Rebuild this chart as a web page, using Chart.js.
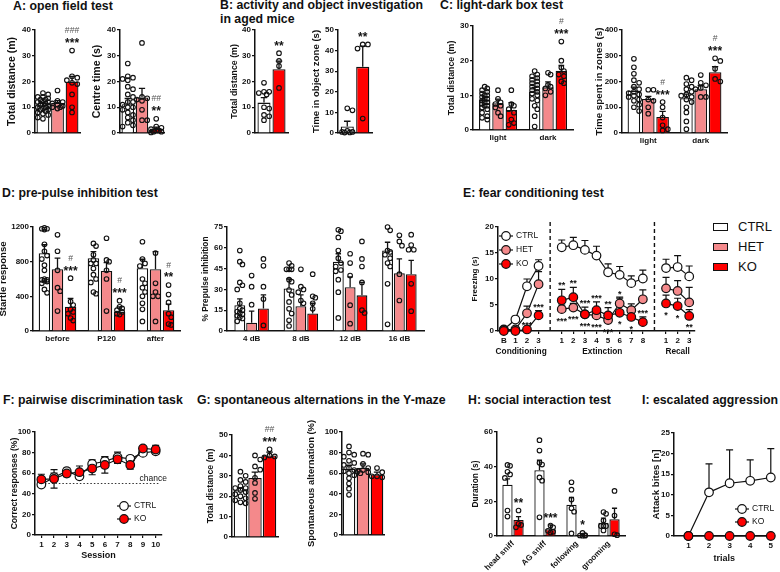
<!DOCTYPE html>
<html>
<head>
<meta charset="utf-8">
<script src="https://cdn.jsdelivr.net/npm/chart.js@4"></script>
<style>
  html, body { margin: 0; padding: 0; background: #fff; }
  #fig { position: relative; width: 780px; height: 572px; overflow: hidden;
         font-family: "Liberation Sans", Arial, sans-serif; color: #111; }
  #fig canvas { position: absolute; }
  .ttl { position: absolute; font-weight: bold; font-size: 12.3px; line-height: 14px; white-space: nowrap; }
  .sw { position: absolute; width: 15px; height: 8px; box-sizing: border-box; border: 1.6px solid #111; }
  .lg { position: absolute; font-size: 13px; line-height: 14px; white-space: nowrap; }
</style>
</head>
<body>
<div id="fig">
  <div class="ttl" style="left:13px;top:-1px">A: open field test</div>
  <div class="ttl" style="left:220px;top:-2px">B: activity and object investigation<br>in aged mice</div>
  <div class="ttl" style="left:440px;top:-2px">C: light-dark box test</div>
  <div class="ttl" style="left:2px;top:186px">D: pre-pulse inhibition test</div>
  <div class="ttl" style="left:463px;top:186px">E: fear conditioning test</div>
  <div class="ttl" style="left:3px;top:393px">F: pairwise discrimination task</div>
  <div class="ttl" style="left:197px;top:393px">G: spontaneous alternations in the Y-maze</div>
  <div class="ttl" style="left:468px;top:393px">H: social interaction test</div>
  <div class="ttl" style="left:642px;top:393px">I: escalated aggression</div>

  <div class="sw" style="left:713px;top:223px;background:#ffffff"></div>
  <div class="lg" style="left:738px;top:220px">CTRL</div>
  <div class="sw" style="left:713px;top:243px;background:#f4898b"></div>
  <div class="lg" style="left:738px;top:240px">HET</div>
  <div class="sw" style="left:713px;top:263px;background:#ff0000"></div>
  <div class="lg" style="left:738px;top:260px">KO</div>
</div>
<script>
// ---- data ----
const GENO = ['CTRL', 'HET', 'KO'];

// A: open field
const A_DIST_MEAN = [[10.8], [11.7], [19.9]];
const A_DIST_SEM = [[0.7], [0.9], [2.1]];
const A_DIST_PTS = [
  [[15.5, 15, 14, 14, 13.5, 13, 12.5, 12, 12, 11.5, 11, 11, 10.5, 10, 10, 9.5, 9, 9, 8.5, 8, 7.5, 7, 6, 5.5, 13]],
  [[16.5, 12.5, 12, 11.5, 11, 10.5, 10, 10, 9.5]],
  [[32, 22, 21.5, 20.5, 19.5, 19, 15, 10, 8]]
];
const A_DIST_SIG = [[''], [''], ['###\n***']];

const A_CENTRE_MEAN = [[11.2], [13.8], [1.7]];
const A_CENTRE_SEM = [[2.2], [3.5], [0.6]];
const A_CENTRE_PTS = [
  [[27, 22, 21.5, 21, 20.5, 18, 17, 15, 14, 12, 11, 10, 9, 8, 7, 6, 5, 4, 3, 2.5, 12, 10]],
  [[35, 14, 13, 12.5, 13.5, 5, 5, 9]],
  [[5.5, 2.5, 2, 1.5, 1, 0.5, 0.5, 1, 0.2]]
];
const A_CENTRE_SIG = [[''], [''], ['##\n**']];

// B: aged mice (CTRL, KO)
const B_DIST_MEAN = [[11.8], [24.8]];
const B_DIST_SEM = [[1.9], [3.1]];
const B_DIST_PTS = [[[19.5, 16, 16, 15.5, 15, 10, 9.5, 7, 6.5, 5]], [[31, 28, 26, 17.5]]];
const B_DIST_SIG = [[''], ['**']];

const B_ZONE_MEAN = [[3.2], [32.1]];
const B_ZONE_SEM = [[2.5], [10.1]];
const B_ZONE_PTS = [[[12, 11, 0.5, 0.5, 0.3, 0.2, 1]], [[43, 43, 41, 7]]];
const B_ZONE_SIG = [[''], ['**']];

// C: light-dark box
const C_ZONES = ['light', 'dark'];
const C_DIST_MEAN = [[8.7, 11.1], [7.7, 12.3], [5.8, 17.1]];
const C_DIST_SEM = [[0.9, 1.2], [1.2, 1.6], [2.1, 1.5]];
const C_DIST_PTS = [
  [[12.5, 12, 11.5, 11, 10.5, 10, 10, 9.5, 9, 9, 8.5, 8, 8, 7.5, 7, 7, 6.5, 6, 5, 4, 3.5, 3],
   [17, 16, 15.5, 15, 14.5, 14, 13.5, 13, 12.5, 12, 11.5, 11, 10.5, 10, 9, 8.5, 7, 6, 4, 1]],
  [[11.5, 9, 8, 7.5, 7, 6.5, 5, 4], [16.5, 16, 13, 12.5, 12, 11, 10]],
  [[11.5, 7.5, 7, 6, 5, 3, 2, 1.5], [25.5, 20, 18, 17, 16, 15.5, 14, 13.5]]
];
const C_DIST_SIG = [['', ''], ['', ''], ['', '#\n***']];

const C_TIME_MEAN = [[164, 135], [132, 170], [62, 236]];
const C_TIME_SEM = [[14, 16], [10, 15], [22, 22]];
const C_TIME_PTS = [
  [[288, 255, 230, 205, 195, 180, 170, 160, 155, 150, 145, 140, 130, 125, 110, 100, 85],
   [215, 205, 190, 180, 170, 160, 150, 145, 140, 130, 120, 100, 80, 45, 15]],
  [[168, 168, 130, 125, 100, 75], [225, 195, 185, 175, 170, 140, 140]],
  [[120, 100, 60, 30, 15, 10], [290, 280, 250, 210, 200]]
];
const C_TIME_SIG = [['', ''], ['', ''], ['#\n***', '#\n***']];

// D: pre-pulse inhibition
const D_STARTLE_CATS = ['before', 'P120', 'after'];
const D_STARTLE_MEAN = [[898, 840, 724], [712, 693, 712], [279, 220, 240]];
const D_STARTLE_SEM = [[97, 77, 104], [128, 97, 205], [96, 59, 70]];
const D_STARTLE_PTS = [
  [[1180, 1170, 1190, 1180, 1000, 920, 870, 830, 760, 700, 600, 590, 580, 570, 550, 480, 440, 590],
   [980, 1010, 880, 820, 780, 720, 650, 600, 560, 450, 430, 780],
   [1030, 830, 780, 750, 600, 550, 500, 450, 400, 320, 250, 110]],
  [[1110, 920, 700, 500, 460, 230], [1070, 820, 800, 700, 600, 230], [900, 550, 450, 400, 400, 110]],
  [[610, 340, 300, 250, 220, 200, 150, 120], [350, 280, 260, 240, 220, 200, 190], [530, 420, 330, 200, 160, 80, 70]]
];
const D_STARTLE_SIG = [['', '', ''], ['', '', ''], ['#\n***', '#\n***', '#\n**']];

const D_PPI_CATS = ['4 dB', '8 dB', '12 dB', '16 dB'];
const D_PPI_MEAN = [[18.6, 30.7, 50, 58], [6, 17.9, 31.5, 41.6], [16.2, 12.6, 25.7, 41]];
const D_PPI_SEM = [[4.5, 6.8, 5.7, 6], [8.3, 8.1, 7.5, 10.4], [9.8, 7.4, 9.3, 10]];
const D_PPI_PTS = [
  [[58, 50, 48, 35, 33, 30, 20, 16, 15, 14, 13, 12, 11, 10, 9, 7],
   [49, 47, 44.5, 44.5, 44.5, 37, 35.6, 29.5, 26, 21, 16, 12.6, 7.7, 3.6],
   [73, 72, 67.5, 58, 52.5, 49, 46.5, 44, 43, 37, 28, 9.4],
   [75, 72.6, 58, 57, 55, 52.5, 49, 46.5, 34, 4.8]],
  [[40, 32, 19], [44.5, 32, 30, 28, 22, 20], [55.7, 49, 40, 18.6, 5.3], [69, 64.6, 61.5, 41, 22]],
  [[52, 47, 32, 23, 4], [41, 25, 24, 20, 16], [64.6, 52, 46.5, 35, 15, 13], [69.5, 62, 58.6, 58.6, 34, 14.3]]
];

// E: fear conditioning ('' = gap between phases)
const E_LABELS = ['B', '1', '2', '3', '', '1', '2', '3', '4', '5', '6', '7', '8', '', '1', '2', '3'];
const E_PHASES = ['Conditioning', 'Extinction', 'Recall'];
const E_CTRL = [0.3, 2.2, 8.6, 12.5, null, 16.1, 16.5, 15.6, 14.5, 11.3, 10.8, 9.2, 10.1, null, 12.1, 12.3, 10.5];
const E_CTRL_SEM = [0.2, 0.6, 1.4, 1.2, null, 1.4, 1.5, 1.8, 1.8, 1.6, 1.6, 1.4, 1.6, null, 1.7, 2.2, 2.0];
const E_HET = [0.2, 0.3, 3.4, 9, null, 4.2, 4.5, 3.2, 3, 2.1, 5.3, 4, 6.1, null, 8.2, 7.7, 5.5];
const E_HET_SEM = [0.1, 0.3, 1.4, 2.4, null, 0.8, 0.8, 0.6, 0.8, 0.7, 1.2, 1.2, 1.8, null, 2.1, 2.0, 2.9];
const E_KO = [0, 0, 0.3, 3, null, 5.9, 6.5, 3.2, 4, 3, 3.5, 2.7, 1.7, null, 5.3, 4.8, 2.9];
const E_KO_SEM = [0, 0, 0.2, 0.9, null, 2.1, 1.9, 1.4, 1.6, 1.5, 2.8, 1.8, 1.0, null, 1.6, 1.5, 1.2];
const E_SIG_KO_UP = ['', '', '', '***', '', '**', '**', '***', '***', '**', '*', '', '***', '', '', '', ''];
const E_SIG_HET_DOWN = ['', '', '***', '', '', '***', '***', '***', '***', '***', '', '', '', '', '', '', ''];
const E_SIG_KO_DOWN = ['', '', '', '', '', '', '', '', '', '', '*', '*', '', '', '*', '*', '**'];

// F: pairwise discrimination
const F_SESSIONS = ['1', '2', '3', '4', '5', '6', '7', '8', '9', '10'];
const F_CTRL = [49, 56, 62, 57, 69, 71.6, 75.5, 74, 79.7, 81.3];
const F_CTRL_SEM = [2, 4, 3, 3, 4, 4, 5, 3, 2, 3];
const F_KO = [54, 54.5, 59.7, 61, 64.5, 68, 73.5, 68, 84, 83];
const F_KO_SEM = [5, 9, 3, 6, 6, 8, 4, 4, 2, 4];
const F_CHANCE = 50;

// G: Y-maze
const G_DIST_MEAN = [[22.9], [28.9], [40]];
const G_DIST_SEM = [[1.2], [2.9], [1.6]];
const G_DIST_PTS = [
  [[32, 30, 28, 27, 25, 24, 24, 23, 22, 21, 20, 19, 18, 17, 16.5]],
  [[40, 38, 34.6, 33, 29, 26.5, 21.6, 18.7]],
  [[43, 40, 39.5, 39]]
];
const G_DIST_SIG = [[''], [''], ['##\n***']];
const G_ALT_MEAN = [[64.2], [65.2], [58.7]];
const G_ALT_SEM = [[3.5], [3.8], [2.3]];
const G_ALT_PTS = [
  [[86, 80, 78, 76, 72, 70, 68, 65, 63, 62, 60, 58, 55, 50, 45, 39]],
  [[79, 78, 69, 65, 63, 62, 61, 60]],
  [[65, 61, 57, 57, 56]]
];

// H: social interaction (CTRL, KO)
const H_BEHAV = ['head sniff', 'AG sniff', 'following', 'grooming'];
const H_MEAN = [[29.6, 37.9, 18, 7.7], [9.3, 3.9, 0.6, 9.7]];
const H_SEM = [[3.3, 5.8, 4.2, 2.6], [1.9, 2.5, 0.6, 6.3]];
const H_PTS = [
  [[41, 40.5, 37, 35.5, 33.5, 14.7, 11.2], [55.3, 49.3, 42.2, 41.2, 33.8, 31.9, 10.8],
   [31, 26.7, 21, 16, 14, 1.5], [13.8, 12.8, 8.9, 5.7, 5.7, 5.7, 3.2]],
  [[14.7, 7, 6.4, 5], [6, 5, 3, 2.5, 2], [1.8, 0.5, 0.3, 0.2, 0.2], [26, 11.8, 1, 0.5]]
];
const H_SIG = [['', '', '', ''], ['**', '***', '*', '']];

// I: escalated aggression
const I_TRIALS = [1, 2, 3, 4, 5];
const I_CTRL = [0, 10.6, 12.8, 13.4, 14.2];
const I_CTRL_SEM = [0, 6.9, 8.1, 5.1, 7];
const I_KO = [0, 0, 0, 0, 0];
const I_KO_SEM = [0, 0, 0, 0, 0];

// ---- drawing ----
const INK = '#111';
const FAM = '"Liberation Sans", Arial, sans-serif';
const FILL3 = ['#ffffff', '#f4898b', '#ff0000'];
const FILL2 = ['#ffffff', '#ff0000'];
const fig = document.getElementById('fig');
Chart.defaults.font.family = FAM;
Chart.defaults.color = INK;

function makeCanvas(rect, yW, xH, padTop, padRight) {
  const [L, T, R, B] = rect;
  const left = L - yW, top = T - padTop;
  const cv = document.createElement('canvas');
  cv.width = Math.round(R - left + padRight);
  cv.height = Math.round(B + xH - top);
  cv.style.left = left + 'px';
  cv.style.top = top + 'px';
  fig.appendChild(cv);
  return cv;
}

function yAxis(min, max, step, title, size, yW) {
  return {
    type: 'linear', min, max,
    ticks: { stepSize: step, font: { size: 8, weight: 'bold' }, padding: 1, color: INK, callback: v => String(v) },
    grid: { display: true, drawOnChartArea: false, drawTicks: true, tickLength: 3, color: INK, lineWidth: 1.2 },
    border: { display: true, color: INK, width: 1.5 },
    title: { display: true, text: title, color: INK, font: { size, weight: 'bold' }, padding: 0 },
    afterFit: sc => { sc.width = yW; }
  };
}

function xBar(xH, show, rot) {
  return {
    type: 'category', offset: true,
    ticks: { display: show, font: { size: 8, weight: 'bold' }, padding: 3, color: INK,
             autoSkip: false, maxRotation: rot || 0, minRotation: rot || 0 },
    grid: { display: false, drawTicks: false },
    border: { display: true, color: INK, width: 1.5 },
    afterFit: sc => { sc.height = xH; }
  };
}

function baseOptions(padTop, padRight, scales) {
  return {
    responsive: false, animation: false, devicePixelRatio: 1,
    layout: { padding: { top: padTop, right: padRight, left: 0, bottom: 0 } },
    plugins: { legend: { display: false }, tooltip: { enabled: false } },
    scales
  };
}

// simple beeswarm: spread dots sideways so they do not overlap
function swarm(ys, half, r) {
  const d = 2 * r + 0.4;
  const order = ys.map((_, i) => i).sort((a, b) => ys[a] - ys[b]);
  const placed = [];
  order.forEach(i => {
    const y = ys[i];
    let best = 0, bestScore = -1;
    for (let k = 0; k < 15; k++) {
      const off = (k % 2 ? 1 : -1) * Math.ceil(k / 2) * (r + 0.3);
      if (Math.abs(off) > half) continue;
      let minD = Infinity;
      placed.forEach(p => { minD = Math.min(minD, Math.hypot(p.x - off, p.y - y)); });
      if (minD >= d) { best = off; break; }
      if (minD > bestScore) { bestScore = minD; best = off; }
    }
    placed.push({ x: best, y });
  });
  return placed;
}

function drawSig(ctx, txt, x, cy, size) {
  const lines = txt.split('\n');
  ctx.textAlign = 'center';
  ctx.textBaseline = 'alphabetic';
  for (let i = lines.length - 1; i >= 0; i--) {
    const t = lines[i];
    if (t[0] === '#') {
      const hs = size * 0.72;
      ctx.font = `${hs}px ${FAM}`;
      ctx.fillStyle = '#555';
      ctx.fillText(t, x, cy + 0.36 * hs);
    } else {
      ctx.font = `bold ${size}px ${FAM}`;
      ctx.fillStyle = INK;
      ctx.fillText(t, x, cy + 0.56 * size);
    }
    cy -= size * 0.85;
  }
}

function barMarks(s) {
  return {
    id: 'barMarks',
    afterDatasetsDraw(chart) {
      const ctx = chart.ctx, ys = chart.scales.y;
      const r = 2.3;
      ctx.save();
      s.means.forEach((row, g) => {
        const meta = chart.getDatasetMeta(g);
        row.forEach((m, c) => {
          const bar = meta.data[c];
          const x = bar.x, w = bar.width;
          const yMean = ys.getPixelForValue(m);
          const yErr = ys.getPixelForValue(m + s.sems[g][c]);
          ctx.strokeStyle = INK;
          ctx.lineWidth = 1.3;
          ctx.beginPath();
          ctx.moveTo(x, yMean); ctx.lineTo(x, yErr);
          ctx.moveTo(x - w * 0.25, yErr); ctx.lineTo(x + w * 0.25, yErr);
          ctx.stroke();
          const pys = s.pts[g][c].map(v => ys.getPixelForValue(v));
          ctx.lineWidth = 1.1;
          swarm(pys, w / 2 - 1, r).forEach(p => {
            ctx.beginPath();
            ctx.arc(x + p.x, p.y, r, 0, Math.PI * 2);
            ctx.stroke();
          });
          const txt = s.sig && s.sig[g][c];
          if (txt) {
            const top = Math.min(yErr, ...pys.map(p => p - r));
            drawSig(ctx, txt, x, top - 8, s.sigSize || 12);
          }
        });
      });
      ctx.restore();
    }
  };
}

function barChart(s) {
  const padTop = 18, padRight = 10;
  const cv = makeCanvas(s.rect, s.yW, s.xH, padTop, padRight);
  const datasets = s.means.map((m, g) => ({
    data: m.slice(), backgroundColor: s.fills[g], borderColor: INK, borderWidth: 1.3,
    categoryPercentage: s.cp, barPercentage: s.bp
  }));
  new Chart(cv, {
    type: 'bar',
    data: { labels: s.labels, datasets },
    options: baseOptions(padTop, padRight, {
      x: xBar(s.xH, s.showX, s.rot),
      y: yAxis(s.yMin, s.yMax, s.step, s.title, s.titleSize, s.yW)
    }),
    plugins: [barMarks(s)]
  });
}

function drawLegend(ctx, items, x, y, gap) {
  items.forEach((it, i) => {
    const cy = y + i * gap;
    ctx.strokeStyle = INK;
    ctx.lineWidth = 1.2;
    ctx.beginPath(); ctx.moveTo(x - 7, cy); ctx.lineTo(x + 7, cy); ctx.stroke();
    ctx.beginPath(); ctx.arc(x, cy, 4.3, 0, Math.PI * 2);
    ctx.fillStyle = it.fill; ctx.fill(); ctx.stroke();
    ctx.fillStyle = INK;
    ctx.font = `8.5px ${FAM}`;
    ctx.textAlign = 'left';
    ctx.textBaseline = 'middle';
    ctx.fillText(it.label, x + 10, cy);
  });
}

function errBars(both, cap) {
  return {
    id: 'errBars',
    beforeDatasetsDraw(chart) {
      const ctx = chart.ctx, ys = chart.scales.y;
      ctx.save();
      ctx.strokeStyle = INK;
      ctx.lineWidth = 1.2;
      chart.data.datasets.forEach((ds, i) => {
        const meta = chart.getDatasetMeta(i);
        ds.sem.forEach((e, k) => {
          const v = ds.vals[k];
          if (v == null || !e) return;
          const pt = meta.data[k];
          const x = pt.x;
          const y1 = ys.getPixelForValue(v + e);
          const y0 = both ? ys.getPixelForValue(v - e) : pt.y;
          ctx.beginPath();
          ctx.moveTo(x, y0); ctx.lineTo(x, y1);
          ctx.moveTo(x - cap, y1); ctx.lineTo(x + cap, y1);
          if (both) { ctx.moveTo(x - cap, y0); ctx.lineTo(x + cap, y0); }
          ctx.stroke();
        });
      });
      ctx.restore();
    }
  };
}

function lineSet(label, vals, sem, fill, order, xs) {
  return {
    label, vals, sem, order,
    data: xs ? vals.map((v, i) => ({ x: xs[i], y: v })) : vals.slice(),
    borderColor: INK, borderWidth: 1.2, spanGaps: false, clip: false,
    pointRadius: 4.3, pointBackgroundColor: fill, pointBorderColor: INK, pointBorderWidth: 1.2
  };
}

// ---- A ----
barChart({ rect: [35, 30, 80, 133], yW: 29, xH: 6, labels: [''], showX: false,
  means: A_DIST_MEAN, sems: A_DIST_SEM, pts: A_DIST_PTS, sig: A_DIST_SIG, fills: FILL3,
  yMin: 0, yMax: 40, step: 10, title: 'Total distance (m)', titleSize: 10.5, cp: 0.97, bp: 0.88 });
barChart({ rect: [120, 30, 164, 133], yW: 29, xH: 6, labels: [''], showX: false,
  means: A_CENTRE_MEAN, sems: A_CENTRE_SEM, pts: A_CENTRE_PTS, sig: A_CENTRE_SIG, fills: FILL3,
  yMin: 0, yMax: 40, step: 10, title: 'Centre time (s)', titleSize: 10.5, cp: 0.97, bp: 0.88 });

// ---- B ----
barChart({ rect: [255, 30, 288, 133], yW: 26, xH: 6, labels: [''], showX: false,
  means: B_DIST_MEAN, sems: B_DIST_SEM, pts: B_DIST_PTS, sig: B_DIST_SIG, fills: FILL2,
  yMin: 0, yMax: 40, step: 10, title: 'Total distance (m)', titleSize: 8.8, cp: 0.91, bp: 0.87 });
barChart({ rect: [338, 30, 372, 133], yW: 27, xH: 6, labels: [''], showX: false,
  means: B_ZONE_MEAN, sems: B_ZONE_SEM, pts: B_ZONE_PTS, sig: B_ZONE_SIG, fills: FILL2,
  yMin: 0, yMax: 50, step: 10, title: 'Time in object zone (s)', titleSize: 9.6, cp: 0.91, bp: 0.85 });

// ---- C ----
barChart({ rect: [473, 26, 573, 130], yW: 27, xH: 16, labels: C_ZONES, showX: true,
  means: C_DIST_MEAN, sems: C_DIST_SEM, pts: C_DIST_PTS, sig: C_DIST_SIG, fills: FILL3,
  yMin: 0, yMax: 30, step: 10, title: 'Total distance (m)', titleSize: 8.8, cp: 0.8, bp: 0.86 });
barChart({ rect: [622, 30, 727, 133], yW: 29, xH: 16, labels: C_ZONES, showX: true,
  means: C_TIME_MEAN, sems: C_TIME_SEM, pts: C_TIME_PTS, sig: C_TIME_SIG, fills: FILL3,
  yMin: 0, yMax: 400, step: 100, title: 'Time spent in zones (s)', titleSize: 9.8, cp: 0.82, bp: 0.88 });

// ---- D ----
barChart({ rect: [33, 227, 180, 331], yW: 35, xH: 16, labels: D_STARTLE_CATS, showX: true,
  means: D_STARTLE_MEAN, sems: D_STARTLE_SEM, pts: D_STARTLE_PTS, sig: D_STARTLE_SIG, fills: FILL3,
  yMin: 0, yMax: 1200, step: 400, title: 'Startle response', titleSize: 9.6, cp: 0.8, bp: 0.88 });
barChart({ rect: [227, 227, 424, 331], yW: 26, xH: 16, labels: D_PPI_CATS, showX: true,
  means: D_PPI_MEAN, sems: D_PPI_SEM, pts: D_PPI_PTS, sig: null, fills: FILL3,
  yMin: 0, yMax: 75, step: 15, title: '% Prepulse inhibition', titleSize: 8.4, cp: 0.72, bp: 0.92 });

// ---- E ----
(function () {
  const rect = [498, 227, 695, 331], yW = 28, xH = 28, padTop = 10, padRight = 6;
  const cv = makeCanvas(rect, yW, xH, padTop, padRight);
  const gaps = E_LABELS.map((l, i) => l === '' ? i : -1).filter(i => i >= 0);
  const bounds = [-1, ...gaps, E_LABELS.length];
  const sigPlugin = {
    id: 'eExtras',
    afterDatasetsDraw(chart) {
      const ctx = chart.ctx, xs = chart.scales.x, ys = chart.scales.y, ca = chart.chartArea;
      ctx.save();
      // phase separators
      ctx.strokeStyle = INK; ctx.lineWidth = 1.4; ctx.setLineDash([4, 3]);
      gaps.forEach(i => {
        const x = xs.getPixelForValue(i);
        ctx.beginPath(); ctx.moveTo(x, ca.top - 5); ctx.lineTo(x, ca.bottom + 2); ctx.stroke();
      });
      ctx.setLineDash([]);
      // significance marks
      E_LABELS.forEach((l, i) => {
        const x = xs.getPixelForValue(i);
        if (E_SIG_KO_UP[i]) drawSig(ctx, E_SIG_KO_UP[i], x, ys.getPixelForValue(E_KO[i] + E_KO_SEM[i]) - 6, 9);
        if (E_SIG_HET_DOWN[i]) drawSig(ctx, E_SIG_HET_DOWN[i], x, ys.getPixelForValue(E_HET[i]) + 9.5, 9);
        if (E_SIG_KO_DOWN[i]) drawSig(ctx, E_SIG_KO_DOWN[i], x, ys.getPixelForValue(E_KO[i]) + 9.5, 9);
      });
      // phase names
      ctx.font = `bold 8.3px ${FAM}`; ctx.fillStyle = INK;
      ctx.textAlign = 'center'; ctx.textBaseline = 'middle';
      E_PHASES.forEach((p, k) => {
        const mid = (bounds[k] + 1 + bounds[k + 1] - 1) / 2;
        ctx.fillText(p, xs.getPixelForValue(mid), ca.bottom + 21);
      });
      drawLegend(ctx, GENO.map((g, i) => ({ label: g, fill: FILL3[i] })), ca.left + 8, ca.top + 9, 14);
      ctx.restore();
    }
  };
  new Chart(cv, {
    type: 'line',
    data: {
      labels: E_LABELS,
      datasets: [
        lineSet('CTRL', E_CTRL, E_CTRL_SEM, FILL3[0], 2),
        lineSet('HET', E_HET, E_HET_SEM, FILL3[1], 1),
        lineSet('KO', E_KO, E_KO_SEM, FILL3[2], 0)
      ]
    },
    options: baseOptions(padTop, padRight, {
      x: {
        type: 'category', offset: true,
        ticks: { font: { size: 8, weight: 'bold' }, padding: 2, color: INK, autoSkip: false, maxRotation: 0 },
        grid: { display: true, drawOnChartArea: false, drawTicks: true, tickLength: 3, lineWidth: 1.2,
                color: c => (E_LABELS[c.index] ? INK : 'rgba(0,0,0,0)') },
        border: { display: true, color: INK, width: 1.5 },
        afterFit: sc => { sc.height = xH; }
      },
      y: yAxis(0, 20, 5, 'Freezing (s)', 8, yW)
    }),
    plugins: [errBars(false, 3.5), sigPlugin]
  });
})();

// ---- F ----
(function () {
  const rect = [35, 432, 162, 535], yW = 26, xH = 26, padTop = 8, padRight = 10;
  const cv = makeCanvas(rect, yW, xH, padTop, padRight);
  const extras = {
    id: 'fExtras',
    beforeDatasetsDraw(chart) {
      const ctx = chart.ctx, xs = chart.scales.x, ys = chart.scales.y, ca = chart.chartArea;
      const y = ys.getPixelForValue(F_CHANCE);
      ctx.save();
      ctx.strokeStyle = '#333'; ctx.lineWidth = 1.2; ctx.setLineDash([1.5, 2]);
      ctx.beginPath(); ctx.moveTo(xs.getPixelForValue(0), y); ctx.lineTo(ca.right - 2, y); ctx.stroke();
      ctx.setLineDash([]);
      ctx.fillStyle = INK; ctx.font = `8.5px ${FAM}`;
      ctx.textAlign = 'right'; ctx.textBaseline = 'bottom';
      ctx.fillText('chance', ca.right + 5, y - 0.5);
      ctx.restore();
    },
    afterDatasetsDraw(chart) {
      const ca = chart.chartArea;
      drawLegend(chart.ctx, [{ label: 'CTRL', fill: FILL3[0] }, { label: 'KO', fill: FILL3[2] }],
        ca.left + 89, ca.top + 74, 13);
    }
  };
  new Chart(cv, {
    type: 'line',
    data: {
      labels: F_SESSIONS,
      datasets: [
        lineSet('CTRL', F_CTRL, F_CTRL_SEM, FILL3[0], 1),
        lineSet('KO', F_KO, F_KO_SEM, FILL3[2], 0)
      ]
    },
    options: baseOptions(padTop, padRight, {
      x: {
        type: 'category', offset: true,
        ticks: { font: { size: 8, weight: 'bold' }, padding: 2, color: INK, autoSkip: false, maxRotation: 0 },
        grid: { display: true, drawOnChartArea: false, drawTicks: true, tickLength: 3, lineWidth: 1.2, color: INK },
        border: { display: true, color: INK, width: 1.5 },
        title: { display: true, text: 'Session', color: INK, font: { size: 9, weight: 'bold' }, padding: { top: 1, bottom: 0 } },
        afterFit: sc => { sc.height = xH; }
      },
      y: yAxis(0, 100, 20, 'Correct responses (%)', 8.6, yW)
    }),
    plugins: [errBars(true, 3.5), extras]
  });
})();

// ---- G ----
barChart({ rect: [232, 435, 278, 537], yW: 27, xH: 6, labels: [''], showX: false,
  means: G_DIST_MEAN, sems: G_DIST_SEM, pts: G_DIST_PTS, sig: G_DIST_SIG, fills: FILL3,
  yMin: 0, yMax: 50, step: 10, title: 'Total distance (m)', titleSize: 8.8, cp: 0.95, bp: 0.92 });
barChart({ rect: [342, 432, 384, 535], yW: 36, xH: 24, labels: [''], showX: false,
  means: G_ALT_MEAN, sems: G_ALT_SEM, pts: G_ALT_PTS, sig: null, fills: FILL3,
  yMin: 0, yMax: 100, step: 20, title: 'Spontaneous alternation (%)', titleSize: 9.4, cp: 1.0, bp: 0.9 });

// ---- H ----
barChart({ rect: [497, 432, 625, 536], yW: 26, xH: 36, labels: H_BEHAV, showX: true, rot: 45,
  means: H_MEAN, sems: H_SEM, pts: H_PTS, sig: H_SIG, fills: FILL2,
  yMin: 0, yMax: 60, step: 20, title: 'Duration (s)', titleSize: 8.4, cp: 0.69, bp: 0.93 });

// ---- I ----
(function () {
  const rect = [674, 433, 780, 536], yW = 23, xH = 28, padTop = 8, padRight = 0;
  const cv = makeCanvas(rect, yW, xH, padTop, padRight);
  const legend = {
    id: 'iLegend',
    afterDatasetsDraw(chart) {
      const ca = chart.chartArea;
      drawLegend(chart.ctx, [{ label: 'CTRL', fill: FILL3[0] }, { label: 'KO', fill: FILL3[2] }],
        ca.left + 68, ca.top + 76, 13);
    }
  };
  new Chart(cv, {
    type: 'line',
    data: {
      datasets: [
        lineSet('CTRL', I_CTRL, I_CTRL_SEM, FILL3[0], 1, I_TRIALS),
        lineSet('KO', I_KO, I_KO_SEM, FILL3[2], 0, I_TRIALS)
      ]
    },
    options: baseOptions(padTop, padRight, {
      x: {
        type: 'linear', min: 0.3, max: 5.18,
        afterBuildTicks: sc => { sc.ticks = I_TRIALS.map(v => ({ value: v })); },
        ticks: { font: { size: 8, weight: 'bold' }, padding: 2, color: INK },
        grid: { display: true, drawOnChartArea: false, drawTicks: true, tickLength: 3, lineWidth: 1.2, color: INK },
        border: { display: true, color: INK, width: 1.5 },
        title: { display: true, text: 'trials', color: INK, font: { size: 9, weight: 'bold' }, padding: { top: 1, bottom: 0 } },
        afterFit: sc => { sc.height = xH; }
      },
      y: yAxis(0, 25, 5, 'Attack bites [n]', 9.7, yW)
    }),
    plugins: [errBars(false, 3.5), legend]
  });
})();
</script>
</body>
</html>
